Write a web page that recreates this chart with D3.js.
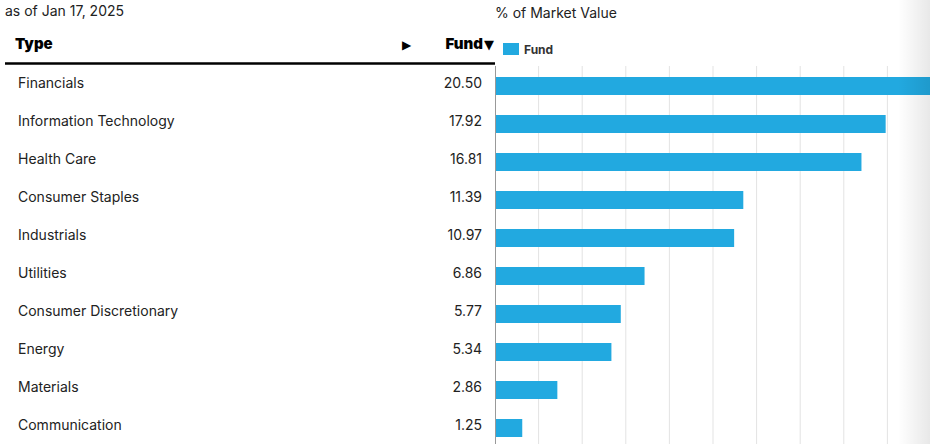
<!DOCTYPE html>
<html><head><meta charset="utf-8">
<script src="https://cdn.jsdelivr.net/npm/d3@7"></script>
<style>body{margin:0;background:#fff;overflow:hidden}svg{display:block}</style>
</head><body><svg id="c" width="930" height="444"></svg>
<script>
const categories = ["Financials","Information Technology","Health Care","Consumer Staples","Industrials","Utilities","Consumer Discretionary","Energy","Materials","Communication"];
const fundValues = [20.50,17.92,16.81,11.39,10.97,6.86,5.77,5.34,2.86,1.25];
const xTicks = [0,2,4,6,8,10,12,14,16,18,20];
const asOf = "as of Jan 17, 2025";
const axisTitle = "% of Market Value";
const seriesName = "Fund";

const svg = d3.select("#c");
const font = "Inter, Roboto, sans-serif";
const barColor = "#22a9e0";

const x = d3.scaleLinear().domain([0,20]).range([495,931]);
const y = d3.scalePoint().domain(categories).range([86,428]);

const defs = svg.append("defs");
const g = defs.append("linearGradient").attr("id","fade").attr("x1","0").attr("x2","1");
g.append("stop").attr("offset","0").attr("stop-color","#000").attr("stop-opacity",0);
g.append("stop").attr("offset","1").attr("stop-color","#000").attr("stop-opacity",0.09);

// gridlines
svg.append("g").selectAll("line").data(xTicks.slice(1)).join("line")
  .attr("x1",d=>x(d)).attr("x2",d=>x(d)).attr("y1",66).attr("y2",444)
  .attr("stroke","#e3e3e3").attr("stroke-width",1);

// bars
svg.append("g").selectAll("rect").data(categories).join("rect")
  .attr("x",x(0)).attr("y",d=>y(d)-9)
  .attr("width",(d,i)=>x(fundValues[i])-x(0)).attr("height",18)
  .attr("fill",barColor);

// axis line
svg.append("line").attr("x1",x(0)+0.5).attr("x2",x(0)+0.5).attr("y1",66).attr("y2",444)
  .attr("stroke","#999").attr("stroke-width",1);

// labels
svg.append("g").selectAll("text").data(categories).join("text")
  .attr("x",18).attr("y",d=>y(d)+2).text(d=>d)
  .attr("font-family",font).attr("font-size",14).attr("fill","#222");
svg.append("g").selectAll("text").data(categories).join("text")
  .attr("x",482).attr("y",d=>y(d)+2).attr("text-anchor","end")
  .text((d,i)=>fundValues[i].toFixed(2))
  .attr("font-family",font).attr("font-size",14).attr("fill","#222");

// titles
svg.append("text").attr("x",5).attr("y",16).text(asOf)
  .attr("font-family",font).attr("font-size",14).attr("fill","#222");
svg.append("text").attr("x",495).attr("y",18).text(axisTitle)
  .attr("font-family",font).attr("font-size",14).attr("fill","#222");

// table header
svg.append("text").attr("x",15).attr("y",49).text("Type")
  .attr("font-family",font).attr("font-size",15).attr("font-weight",900).attr("fill","#000");
svg.append("text").attr("x",402).attr("y",49).text("▶")
  .attr("font-family","DejaVu Sans").attr("font-size",12).attr("fill","#000");
svg.append("text").attr("x",494).attr("y",49).attr("text-anchor","end")
  .attr("font-family",font).attr("font-size",15).attr("font-weight",900).attr("fill","#000")
  .call(t=>{t.append("tspan").text(seriesName);t.append("tspan").attr("font-family","DejaVu Sans").attr("font-size",13).attr("dx",1).text("▼");});
svg.append("line").attr("x1",5).attr("x2",495).attr("y1",63.5).attr("y2",63.5)
  .attr("stroke","#000").attr("stroke-width",2.5);

// legend
svg.append("rect").attr("x",503).attr("y",43).attr("width",16).attr("height",12).attr("fill",barColor);
svg.append("text").attr("x",524).attr("y",54).text(seriesName)
  .attr("font-family",font).attr("font-size",12).attr("font-weight",700).attr("fill","#333");

// right fade
svg.append("rect").attr("x",898).attr("y",0).attr("width",32).attr("height",444).attr("fill","url(#fade)");
</script></body></html>
